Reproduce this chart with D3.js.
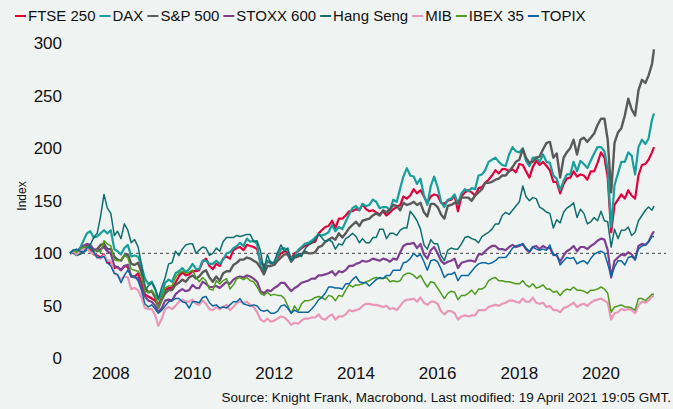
<!DOCTYPE html>
<html><head><meta charset="utf-8">
<script src="https://cdn.jsdelivr.net/npm/d3@7"></script>
<style>html,body{margin:0;padding:0;background:#eff3f2;} svg{display:block;font-family:"Liberation Sans",Arial,sans-serif;}</style>
</head><body><svg id="c" width="673" height="409"></svg>
<script>
// Categories: month starts Jan 2007 .. Apr 2021, plus last observation 19 Apr 2021
const startDate = new Date(2007, 0, 1);
const lastDate = new Date(2021, 3, 19);
const monthCount = 172;

const seriesNames = ["FTSE 250", "DAX", "S&P 500", "STOXX 600", "Hang Seng", "MIB", "IBEX 35", "TOPIX"];
const seriesColors = ["#e2003c", "#17a09b", "#5a5a5a", "#7e3f90", "#0f6f6f", "#e898b6", "#4f9b1d", "#0b67a1"];
const seriesWidths = [2.2, 2.2, 2.4, 2.2, 1.5, 2.2, 1.5, 1.5];

const ftse250 = [100,
101,100,105,107,107,104,99,98,96,99,91,91,
86,87,84,88,87,78,78,81,72,61,59,57,
55,51,58,65,67,67,72,78,82,79,80,83,
83,84,92,95,88,85,90,88,95,97,95,103,
105,106,103,108,107,106,104,92,88,92,91,90,
96,100,102,101,95,100,102,105,107,108,110,111,
119,122,125,126,131,124,133,133,136,140,140,142,
141,147,142,140,141,139,137,140,136,139,142,144,
146,154,152,155,161,157,160,154,148,154,156,155,
148,147,150,151,155,140,154,158,160,158,155,162,
163,167,170,174,179,176,180,180,178,180,177,185,
184,178,172,182,188,184,187,183,179,168,168,157,
166,171,172,178,173,175,174,170,178,178,186,196,
191,172,120,146,151,156,152,160,155,152,174,184,
185,189,196,201];

const dax = [100,
103,102,105,112,119,121,115,116,119,122,119,122,
104,102,99,105,108,97,98,97,88,76,71,73,
66,56,62,72,75,73,81,83,86,82,85,90,
85,85,93,93,90,90,93,90,94,100,101,105,
107,110,107,114,111,112,109,88,83,93,92,89,
98,104,105,103,95,97,103,106,109,110,112,115,
118,117,118,120,127,121,125,123,130,137,143,145,
141,147,145,146,151,149,143,144,144,141,151,149,
162,173,181,174,173,166,171,155,146,164,173,163,
149,144,151,152,156,147,157,161,159,162,161,174,
175,179,187,189,191,187,184,183,194,201,197,196,
200,188,183,191,191,187,194,187,186,174,171,160,
169,175,175,187,178,188,185,181,188,195,201,201,
197,180,125,165,176,187,187,196,193,175,201,208,
204,209,227,233];

const sp500 = [100,
101,99,100,105,108,106,103,104,108,109,104,104,
97,94,93,98,99,90,89,91,82,68,63,64,
58,48,56,62,65,65,70,72,75,73,77,79,
76,78,82,84,77,73,78,74,81,83,83,89,
91,94,94,96,95,93,91,86,80,88,88,89,
93,96,99,99,92,96,97,99,102,100,100,101,
106,107,111,113,115,113,119,115,119,124,127,130,
126,131,132,133,136,138,136,141,139,142,146,145,
141,148,146,147,149,146,148,139,135,147,147,144,
137,133,145,146,148,148,153,153,153,150,155,158,
161,167,167,168,170,171,174,174,178,182,187,189,
199,191,186,187,191,192,199,205,206,191,195,172,
191,196,200,208,194,208,210,206,210,214,222,228,
228,208,158,205,215,219,231,247,237,231,255,265,
262,269,280,294];

const stoxx600 = [100,
102,100,103,107,109,108,104,102,104,106,102,100,
88,87,84,88,89,78,77,77,67,59,55,54,
50,44,48,55,56,55,61,64,66,64,65,70,
67,67,73,71,68,68,69,67,70,73,71,75,
77,78,77,79,78,76,73,64,62,65,64,67,
69,72,72,68,64,67,69,72,73,74,76,76,
79,79,80,81,83,79,83,82,84,88,88,90,
91,93,92,93,95,94,93,95,94,92,95,94,
101,107,109,109,110,105,109,99,95,103,106,100,
93,90,92,93,95,86,91,92,93,93,92,99,
99,102,105,107,107,104,104,103,106,108,106,107,
109,104,101,106,107,104,107,105,105,99,98,92,
98,102,104,107,102,106,106,104,107,109,112,114,
113,103,77,93,96,99,98,101,99,94,107,109,
108,111,118,121];

const hangSeng = [100,
100,98,99,101,103,108,115,119,135,156,143,138,
117,121,114,128,122,110,113,106,90,65,69,72,
66,57,68,77,90,91,102,98,104,108,109,109,
100,103,106,105,98,100,105,102,111,115,115,115,
117,116,117,118,118,111,112,102,84,99,90,92,
101,108,102,105,93,97,99,97,104,108,110,113,
118,115,111,113,111,104,109,108,114,116,119,116,
110,114,110,110,115,115,123,123,114,119,119,117,
122,124,124,140,136,131,123,108,104,113,109,109,
98,93,103,105,104,104,109,115,116,114,113,110,
116,118,120,123,128,128,136,139,137,141,145,149,
164,154,150,153,152,144,142,139,138,124,132,129,
139,143,145,148,134,142,138,128,130,134,131,140,
131,130,106,123,114,122,122,125,117,120,131,136,
141,144,141,145];

const mib = [100,
102,99,102,104,105,101,100,96,95,98,93,93,
81,79,75,78,77,66,67,65,58,48,47,47,
41,31,38,47,49,47,50,54,56,54,54,56,
52,51,55,52,47,46,49,47,49,51,46,49,
53,54,53,54,51,49,44,37,35,38,35,36,
38,40,39,36,32,34,33,36,38,38,39,39,
42,38,37,40,42,37,40,40,42,46,45,46,
47,50,52,52,51,51,50,49,50,47,48,46,
50,54,56,56,57,54,58,53,51,54,54,52,
45,42,45,45,43,37,40,41,40,41,41,46,
46,46,49,50,51,50,52,53,55,55,54,53,
57,54,54,58,53,52,53,49,50,46,46,44,
48,49,51,53,49,51,52,50,53,55,56,57,
55,53,37,43,44,47,46,47,46,43,51,54,
53,55,59,59];

const ibex35 = [100,
103,101,104,106,106,105,102,103,101,112,109,107,
94,93,94,98,96,85,84,83,78,64,63,65,
60,48,57,67,69,69,77,81,83,81,82,84,
77,73,77,74,66,65,74,71,74,76,66,70,
76,77,75,77,74,73,68,62,60,63,60,61,
60,60,57,50,43,50,45,52,55,55,56,58,
59,58,56,60,59,55,60,59,65,70,68,70,
70,71,73,74,76,77,76,76,77,73,74,73,
74,79,81,81,79,76,79,73,68,73,72,67,
62,57,62,64,63,56,60,60,62,65,61,66,
66,68,74,76,77,74,74,73,73,72,71,71,
74,70,68,71,67,68,70,66,66,63,64,60,
64,66,65,68,65,65,64,62,65,65,66,68,
66,62,44,49,50,51,49,49,48,46,57,57,
55,58,61,61];

const topix = [100,
103,104,102,101,105,106,101,96,96,97,91,88,
81,80,72,79,84,79,78,74,65,52,49,51,
47,43,46,50,54,55,57,57,54,53,48,54,
54,53,58,59,53,50,51,48,49,48,51,54,
54,57,52,51,50,51,50,46,45,46,43,43,
45,50,51,48,43,46,44,44,44,44,47,51,
56,58,62,68,68,67,67,66,71,71,75,78,
73,72,72,69,72,75,77,76,79,79,84,84,
84,91,92,95,100,97,99,92,84,93,94,92,
85,77,80,80,82,74,79,79,79,83,87,90,
91,91,90,91,93,96,96,96,100,105,107,108,
109,105,102,106,104,103,104,103,108,98,99,89,
93,96,95,96,90,92,93,90,95,99,101,102,
100,90,78,87,93,93,89,96,97,94,104,107,
108,111,116,116];

const yTicks = [0, 50, 100, 150, 200, 250, 300];
const xTickYears = [2008, 2010, 2012, 2014, 2016, 2018, 2020];
const referenceLevel = 100;
const yTitle = "Index";
const sourceText = "Source: Knight Frank, Macrobond. Last modified: 19 April 2021 19:05 GMT.";

const allSeries = [ftse250, dax, sp500, stoxx600, hangSeng, mib, ibex35, topix];
const dates = d3.range(monthCount).map(i => d3.timeMonth.offset(startDate, i)).concat([lastDate]);

const svg = d3.select("#c");
svg.append("rect").attr("width", 673).attr("height", 409).attr("fill", "#eff3f2");

const x = d3.scaleTime().domain([startDate, lastDate]).range([70, 654]);
const y = d3.scaleLinear().domain([0, 300]).range([358.5, 43]);

// Y tick labels
svg.append("g").selectAll("text").data(yTicks).join("text")
  .attr("x", 62).attr("y", d => y(d)).attr("dy", "0.35em")
  .attr("text-anchor", "end").attr("font-size", 17).attr("fill", "#111")
  .text(d => d);

// X tick labels
svg.append("g").selectAll("text").data(xTickYears).join("text")
  .attr("x", d => x(new Date(d, 0, 1))).attr("y", 373).attr("dy", "0.35em")
  .attr("text-anchor", "middle").attr("font-size", 17).attr("fill", "#111")
  .text(d => d);

// Y title
svg.append("text").attr("transform", "translate(26,196) rotate(-90)")
  .attr("text-anchor", "middle").attr("font-size", 12).attr("fill", "#111").text(yTitle);

// Reference dashed line
svg.append("line").attr("x1", x(startDate)).attr("x2", 666)
  .attr("y1", y(referenceLevel)).attr("y2", y(referenceLevel))
  .attr("stroke", "#444").attr("stroke-width", 1).attr("stroke-dasharray", "3,3");

const line = d3.line().x((d, i) => x(dates[i])).y(d => y(d));
svg.append("g").selectAll("path").data(allSeries).join("path")
  .attr("d", d => line(d)).attr("fill", "none")
  .attr("stroke", (d, i) => seriesColors[i])
  .attr("stroke-width", (d, i) => seriesWidths[i])
  .attr("stroke-linejoin", "round");

// Legend
const lg = svg.append("g");
let lx = 15;
seriesNames.forEach((name, i) => {
  lg.append("line").attr("x1", lx).attr("x2", lx + 11).attr("y1", 16).attr("y2", 16)
    .attr("stroke", seriesColors[i]).attr("stroke-width", 2);
  const t = lg.append("text").attr("x", lx + 13).attr("y", 16).attr("dy", "0.35em")
    .attr("font-size", 15).attr("fill", "#111").text(name);
  lx += 13 + t.node().getComputedTextLength() + 4;
});

// Source
svg.append("text").attr("x", 671).attr("y", 402).attr("text-anchor", "end")
  .attr("font-size", 13.5).attr("fill", "#111").text(sourceText);
</script></body></html>
